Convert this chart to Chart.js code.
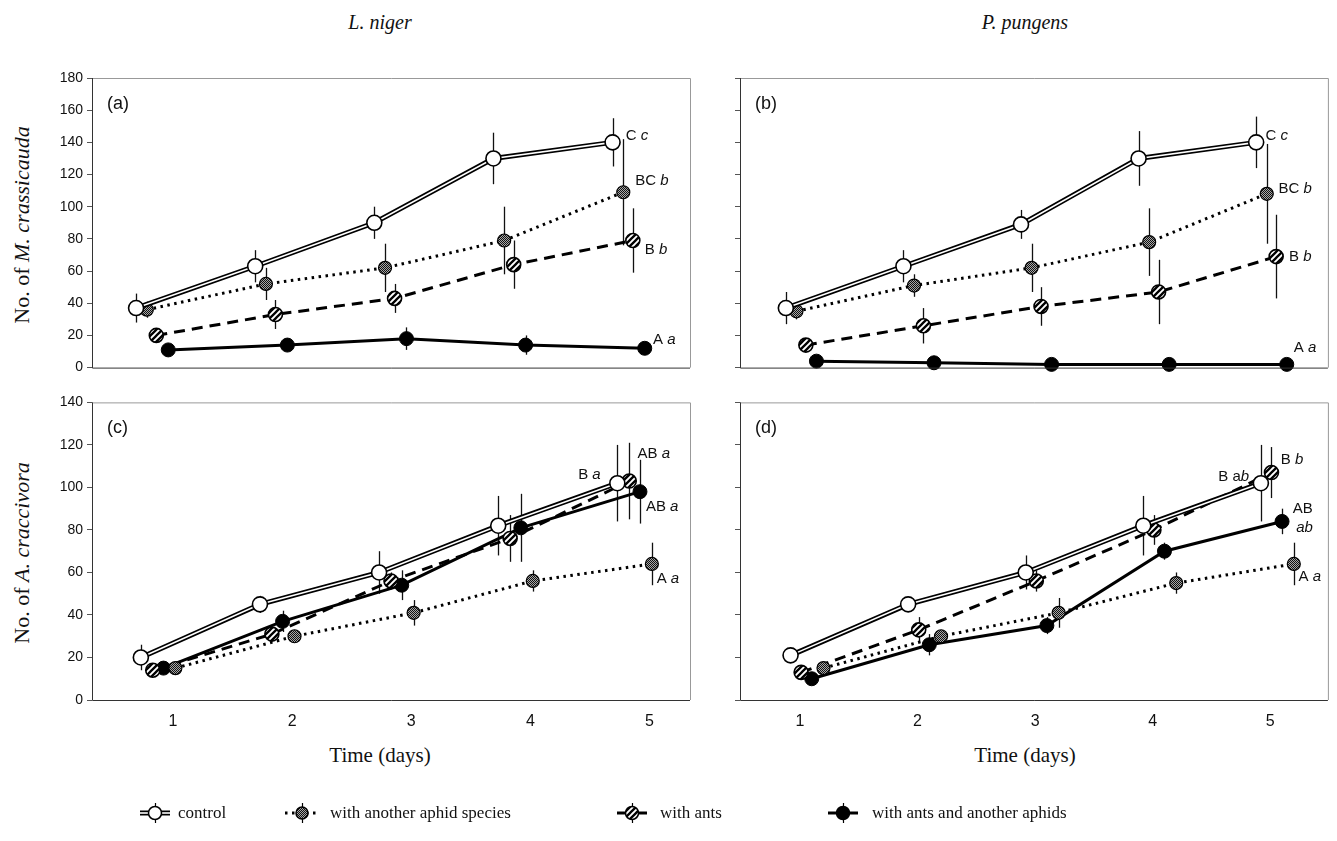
<!DOCTYPE html>
<html>
<head>
<meta charset="utf-8">
<title>Aphid colonies</title>
<script src="https://cdn.jsdelivr.net/npm/chart.js"></script>
<style>
  body { margin: 0; background: #fff; width: 1337px; height: 841px; position: relative; overflow: hidden; }
  canvas { position: absolute; }
  .t { position: absolute; color: #111; white-space: nowrap; font-family: "Liberation Serif", "Times New Roman", serif; transform: translate(-50%, -50%); }
  .head { font-size: 20px; font-style: italic; top: 22px; }
  .xt { font-size: 21px; top: 755px; }
  .yt { font-size: 22px; left: 22px; transform: translate(-50%, -50%) rotate(-90deg); }
  .lg { position: absolute; top: 803px; font-family: "Liberation Serif", "Times New Roman", serif; font-size: 17px; color: #111; white-space: nowrap; }
</style>
</head>
<body>
<div class="t head" style="left:380px">L. niger</div>
<div class="t head" style="left:1025px">P. pungens</div>
<div class="t yt" style="top:225px">No. of <i>M. crassicauda</i></div>
<div class="t yt" style="top:553px">No. of <i>A. craccivora</i></div>
<div class="t xt" style="left:380px">Time (days)</div>
<div class="t xt" style="left:1025px">Time (days)</div>

<canvas id="pa" width="700" height="320" style="left:0;top:60px"></canvas>
<canvas id="pb" width="637" height="320" style="left:700px;top:60px"></canvas>
<canvas id="pc" width="700" height="350" style="left:0;top:390px"></canvas>
<canvas id="pd" width="637" height="350" style="left:700px;top:390px"></canvas>
<canvas id="legend" width="1337" height="36" style="left:0;top:795px"></canvas>
<span class="lg" style="left:178px">control</span>
<span class="lg" style="left:330px">with another aphid species</span>
<span class="lg" style="left:660px">with ants</span>
<span class="lg" style="left:872px">with ants and another aphids</span>

<script>
// sampling days and series order: control, other aphid, ants, ants + other aphid
const days = [1, 2, 3, 4, 5];
const dayLabels = ['1', '2', '3', '4', '5'];

// (a) M. crassicauda, L. niger
const aControl = [37, 63, 90, 130, 140];
const aControlSe = [9, 10, 10, 16, 15];
const aAphid = [36, 52, 62, 79, 109];
const aAphidSe = [5, 10, 15, 21, 33];
const aAnts = [20, 33, 43, 64, 79];
const aAntsSe = [2, 9, 9, 15, 20];
const aAntsAphid = [11, 14, 18, 14, 12];
const aAntsAphidSe = [2, 3, 7, 6, 2];

// (b) M. crassicauda, P. pungens
const bControl = [37, 63, 89, 130, 140];
const bControlSe = [10, 10, 9, 17, 16];
const bAphid = [35, 51, 62, 78, 108];
const bAphidSe = [5, 7, 15, 21, 31];
const bAnts = [14, 26, 38, 47, 69];
const bAntsSe = [2, 11, 12, 20, 26];
const bAntsAphid = [4, 3, 2, 2, 2];
const bAntsAphidSe = [0, 0, 0, 0, 0];

// (c) A. craccivora, L. niger
const cControl = [20, 45, 60, 82, 102];
const cControlSe = [6, 4, 10, 14, 18];
const cAphid = [15, 30, 41, 56, 64];
const cAphidSe = [2, 2, 6, 5, 10];
const cAnts = [14, 31, 56, 76, 103];
const cAntsSe = [2, 3, 4, 11, 18];
const cAntsAphid = [15, 37, 54, 81, 98];
const cAntsAphidSe = [2, 5, 7, 16, 15];

// (d) A. craccivora, P. pungens
const dControl = [21, 45, 60, 82, 102];
const dControlSe = [2, 3, 8, 14, 18];
const dAphid = [15, 30, 41, 55, 64];
const dAphidSe = [2, 2, 7, 5, 10];
const dAnts = [13, 33, 56, 80, 107];
const dAntsSe = [2, 6, 5, 7, 12];
const dAntsAphid = [10, 26, 35, 70, 84];
const dAntsAphidSe = [2, 5, 4, 4, 6];

// patterned marker fills
function stipple() {
  const c = document.createElement('canvas');
  c.width = c.height = 2;
  const g = c.getContext('2d');
  g.fillStyle = '#a8a8a8'; g.fillRect(0, 0, 2, 2);
  g.fillStyle = '#111';
  g.fillRect(0, 0, 1, 1); g.fillRect(1, 1, 1, 1);
  return g.createPattern(c, 'repeat');
}
function hatch() {
  const c = document.createElement('canvas');
  c.width = c.height = 6;
  const g = c.getContext('2d');
  g.fillStyle = '#fff'; g.fillRect(0, 0, 6, 6);
  g.strokeStyle = '#000'; g.lineWidth = 2.3;
  g.beginPath();
  g.moveTo(-1, 7); g.lineTo(7, -1);
  g.moveTo(-4, 4); g.lineTo(4, -4);
  g.moveTo(2, 10); g.lineTo(10, 2);
  g.stroke();
  return g.createPattern(c, 'repeat');
}
const dotFill = stipple();
const stripeFill = hatch();

const panels = [
  { id: 'pa', tag: '(a)', yMax: 180, xMin: 0.32, xMax: 5.34, yWidth: 92, xHeight: 12, top: 18, right: 10, labels: true, ticksX: false,
    means: [aControl, aAphid, aAnts, aAntsAphid], errs: [aControlSe, aAphidSe, aAntsSe, aAntsAphidSe],
    dodge: [-0.31, -0.22, -0.14, -0.04],
    notes: [{ x: 4.8, y: 144, up: 'C ', it: 'c' }, { x: 4.88, y: 116, up: 'BC ', it: 'b' },
            { x: 4.96, y: 73, up: 'B ', it: 'b' }, { x: 5.03, y: 17, up: 'A ', it: 'a' }] },
  { id: 'pb', tag: '(b)', yMax: 180, xMin: 0.49, xMax: 5.49, yWidth: 40, xHeight: 12, top: 18, right: 7, labels: false, ticksX: false,
    means: [bControl, bAphid, bAnts, bAntsAphid], errs: [bControlSe, bAphidSe, bAntsSe, bAntsAphidSe],
    dodge: [-0.12, -0.03, 0.05, 0.14],
    notes: [{ x: 4.96, y: 144, up: 'C ', it: 'c' }, { x: 5.07, y: 111, up: 'BC ', it: 'b' },
            { x: 5.16, y: 69, up: 'B ', it: 'b' }, { x: 5.2, y: 12, up: 'A ', it: 'a' }] },
  { id: 'pc', tag: '(c)', yMax: 140, xMin: 0.32, xMax: 5.34, yWidth: 92, xHeight: 40, top: 8, right: 10, labels: true, ticksX: true,
    means: [cControl, cAphid, cAnts, cAntsAphid], errs: [cControlSe, cAphidSe, cAntsSe, cAntsAphidSe],
    dodge: [-0.27, 0.02, -0.17, -0.08],
    notes: [{ x: 4.59, y: 106, up: 'B ', it: 'a', right: true }, { x: 4.9, y: 116, up: 'AB ', it: 'a' },
            { x: 4.97, y: 91, up: 'AB ', it: 'a' }, { x: 5.06, y: 57, up: 'A ', it: 'a' }] },
  { id: 'pd', tag: '(d)', yMax: 140, xMin: 0.49, xMax: 5.49, yWidth: 40, xHeight: 40, top: 8, right: 7, labels: false, ticksX: true,
    means: [dControl, dAphid, dAnts, dAntsAphid], errs: [dControlSe, dAphidSe, dAntsSe, dAntsAphidSe],
    dodge: [-0.08, 0.2, 0.01, 0.1],
    notes: [{ x: 4.82, y: 105, up: 'B a', it: 'b', right: true }, { x: 5.09, y: 113, up: 'B ', it: 'b' },
            { x: 5.19, y: 90, up: 'AB', it: '' }, { x: 5.22, y: 81, up: '', it: 'ab' },
            { x: 5.24, y: 58, up: 'A ', it: 'a' }] }
];

function drawNote(ctx, n, px, py) {
  const reg = '15px "Liberation Sans", Arial, sans-serif';
  const ital = 'italic 15px "Liberation Sans", Arial, sans-serif';
  ctx.font = reg;
  const w1 = ctx.measureText(n.up).width;
  ctx.font = ital;
  const w2 = ctx.measureText(n.it).width;
  const x0 = n.right ? px - w1 - w2 : px;
  ctx.fillStyle = '#111';
  ctx.textBaseline = 'middle';
  ctx.textAlign = 'left';
  ctx.font = reg;
  ctx.fillText(n.up, x0, py);
  ctx.font = ital;
  ctx.fillText(n.it, x0 + w1, py);
}

function decor(p) {
  return {
    id: 'decor',
    beforeDatasetsDraw(chart) {
      const { ctx, scales: { x, y } } = chart;
      ctx.save();
      ctx.strokeStyle = '#111';
      ctx.lineWidth = 1.3;
      p.means.forEach((m, s) => {
        m.forEach((v, i) => {
          const e = p.errs[s][i];
          if (!e) return;
          const px = Math.round(x.getPixelForValue(days[i] + p.dodge[s])) + 0.5;
          ctx.beginPath();
          ctx.moveTo(px, y.getPixelForValue(v - e));
          ctx.lineTo(px, y.getPixelForValue(v + e));
          ctx.stroke();
        });
      });
      ctx.restore();
    },
    afterDraw(chart) {
      const { ctx, chartArea: a, scales: { x, y } } = chart;
      ctx.save();
      ctx.lineWidth = 1;
      ctx.strokeStyle = '#999';
      ctx.beginPath();
      ctx.moveTo(a.left, a.top + 0.5); ctx.lineTo(a.right + 0.5, a.top + 0.5); ctx.lineTo(a.right + 0.5, a.bottom);
      ctx.stroke();
      ctx.strokeStyle = '#333';
      ctx.beginPath();
      ctx.moveTo(a.left + 0.5, a.top); ctx.lineTo(a.left + 0.5, a.bottom + 0.5); ctx.lineTo(a.right, a.bottom + 0.5);
      ctx.stroke();
      ctx.fillStyle = '#111';
      ctx.font = '18px "Liberation Sans", Arial, sans-serif';
      ctx.textBaseline = 'middle';
      ctx.fillText(p.tag, a.left + 15, a.top + 26);
      p.notes.forEach(n => drawNote(ctx, n, x.getPixelForValue(n.x), y.getPixelForValue(n.y)));
      ctx.restore();
    }
  };
}

function datasets(p) {
  const pts = s => days.map((d, i) => ({ x: d + p.dodge[s], y: p.means[s][i] }));
  const base = { tension: 0, clip: false, borderColor: '#000', pointBorderColor: '#000' };
  return [
    Object.assign({}, base, { data: pts(3), borderWidth: 3, pointRadius: 7, pointBackgroundColor: '#000', pointBorderWidth: 1, order: 5 }),
    Object.assign({}, base, { data: pts(2), borderWidth: 3, borderDash: [11, 7], pointRadius: 7, pointBackgroundColor: stripeFill, pointBorderWidth: 1.6, order: 4 }),
    Object.assign({}, base, { data: pts(1), borderWidth: 3, borderDash: [2.5, 4.5], pointRadius: 6.5, pointBackgroundColor: dotFill, pointBorderWidth: 1.2, order: 3 }),
    Object.assign({}, base, { data: pts(0), borderWidth: 5, pointRadius: 0, order: 2 }),
    Object.assign({}, base, { data: pts(0), borderColor: '#fff', borderWidth: 1.6, pointRadius: 7.5, pointBackgroundColor: '#fff', pointBorderWidth: 1.6, order: 1 })
  ];
}

panels.forEach(p => {
  new Chart(document.getElementById(p.id), {
    type: 'line',
    data: { datasets: datasets(p) },
    options: {
      responsive: false,
      animation: false,
      devicePixelRatio: 1,
      layout: { padding: { top: p.top, right: p.right, left: 0, bottom: 0 } },
      plugins: { legend: { display: false }, tooltip: { enabled: false } },
      scales: {
        x: {
          type: 'linear', min: p.xMin, max: p.xMax,
          afterBuildTicks: s => { s.ticks = days.map(v => ({ value: v })); },
          afterFit: s => { s.height = p.xHeight; },
          grid: { display: false },
          border: { display: false },
          ticks: {
            display: p.ticksX, padding: 4, color: '#111',
            font: { family: '"Liberation Sans", Arial, sans-serif', size: 16 },
            callback: (v, i) => dayLabels[i]
          }
        },
        y: {
          min: 0, max: p.yMax,
          ticks: {
            stepSize: 20, padding: 4,
            color: p.labels ? '#111' : 'rgba(0,0,0,0)',
            font: { family: '"Liberation Sans", Arial, sans-serif', size: 14 }
          },
          afterFit: s => { s.width = p.yWidth; },
          grid: { drawOnChartArea: false, drawTicks: true, tickLength: 5, color: '#555' },
          border: { display: false }
        }
      }
    },
    plugins: [decor(p)]
  });
});

// legend symbols
(function () {
  const g = document.getElementById('legend').getContext('2d');
  const cy = 18;
  const items = [
    { cx: 155, kind: 0 }, { cx: 302, kind: 1 }, { cx: 632, kind: 2 }, { cx: 843, kind: 3 }
  ];
  items.forEach(it => {
    g.save();
    g.strokeStyle = '#000';
    g.lineWidth = 1.2;
    g.beginPath(); g.moveTo(it.cx + 0.5, cy - 10); g.lineTo(it.cx + 0.5, cy + 10); g.stroke();
    if (it.kind === 0) {
      g.lineWidth = 5; g.beginPath(); g.moveTo(it.cx - 15, cy); g.lineTo(it.cx + 15, cy); g.stroke();
      g.strokeStyle = '#fff'; g.lineWidth = 1.6; g.beginPath(); g.moveTo(it.cx - 15, cy); g.lineTo(it.cx + 15, cy); g.stroke();
    } else if (it.kind === 1) {
      g.lineWidth = 3; g.setLineDash([2.5, 4.5]);
      g.beginPath(); g.moveTo(it.cx - 17, cy); g.lineTo(it.cx + 17, cy); g.stroke();
      g.setLineDash([]);
    } else {
      g.lineWidth = 3; g.beginPath(); g.moveTo(it.cx - 15, cy); g.lineTo(it.cx + 15, cy); g.stroke();
    }
    g.beginPath();
    g.arc(it.cx, cy, it.kind === 1 ? 6 : 6.5, 0, Math.PI * 2);
    g.fillStyle = ['#fff', dotFill, stripeFill, '#000'][it.kind];
    g.fill();
    g.strokeStyle = '#000'; g.lineWidth = 1.5; g.stroke();
    g.restore();
  });
})();
</script>
</body>
</html>
